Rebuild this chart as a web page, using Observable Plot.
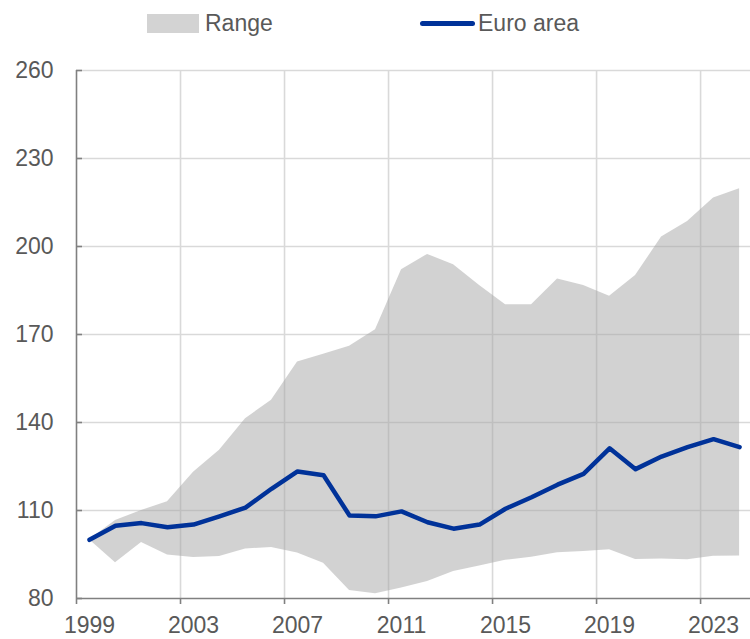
<!DOCTYPE html>
<html>
<head>
<meta charset="utf-8">
<script src="https://cdn.jsdelivr.net/npm/d3@7"></script>
<script src="https://cdn.jsdelivr.net/npm/@observablehq/plot@0.6"></script>
<style>
  body { margin: 0; background: #fff; font-family: "Liberation Sans", Arial, sans-serif; }
  #wrap { position: relative; width: 750px; height: 639px; overflow: hidden; }
  #legend { position: relative; width: 750px; height: 40px; }
  #chart svg { display: block; }
  .sw-range { position: absolute; left: 147px; top: 14px; width: 52px; height: 19px; background: #d3d3d3; }
  .sw-line { position: absolute; left: 420px; top: 21px; width: 55px; height: 5px; border-radius: 3px; background: #003299; }
  .lab { position: absolute; top: 9px; font-size: 23px; line-height: 28px; color: #595959; }
</style>
</head>
<body>
<div id="wrap">
  <div id="legend">
    <div class="sw-range"></div><div class="lab" style="left:205px">Range</div>
    <div class="sw-line"></div><div class="lab" style="left:478px">Euro area</div>
  </div>
  <div id="chart"></div>
</div>
<script>
const years = [1999, 2000, 2001, 2002, 2003, 2004, 2005, 2006, 2007, 2008, 2009, 2010, 2011, 2012, 2013, 2014, 2015, 2016, 2017, 2018, 2019, 2020, 2021, 2022, 2023, 2024];
const euroArea = [100, 104.8, 105.7, 104.3, 105.2, 108, 111, 117.4, 123.3, 122, 108.3, 108, 109.7, 106, 103.8, 105.2, 110.6, 114.5, 118.8, 122.5, 131.2, 124.1, 128.4, 131.6, 134.3, 131.6];
const rangeLow = [100, 92.2, 99.1, 94.8, 94, 94.3, 96.9, 97.4, 95.5, 92, 82.7, 81.6, 83.6, 85.8, 89.2, 91.1, 93, 94.1, 95.6, 96, 96.6, 93.3, 93.5, 93.2, 94.4, 94.5];
const rangeHigh = [100, 106.6, 110, 113, 123, 130.5, 141.3, 147.6, 160.6, 163.3, 166, 171.6, 192.1, 197.3, 193.8, 186.7, 180.1, 180.1, 188.9, 186.7, 183, 190.1, 203.2, 208.5, 216.5, 219.7];
const xLabelYears = [1999, 2003, 2007, 2011, 2015, 2019, 2023];
const yTicks = [80, 110, 140, 170, 200, 230, 260];

const data = years.map((y, i) => ({year: y, euro: euroArea[i], lo: rangeLow[i], hi: rangeHigh[i]}));
const mid = d => d.year + 0.5;

const chart = Plot.plot({
  width: 750,
  height: 599,
  marginLeft: 76,
  marginRight: 0,
  marginTop: 30,
  marginBottom: 41,
  style: {fontFamily: "'Liberation Sans', Arial, sans-serif", fontSize: "23px", color: "#595959", background: "#fff"},
  x: {domain: [1999, 2024.92], axis: null},
  y: {domain: [80, 260], axis: null},
  marks: [
    Plot.gridX({ticks: xLabelYears.slice(1), stroke: "#d9d9d9", strokeOpacity: 1, strokeWidth: 1.6}),
    Plot.gridY({ticks: yTicks.slice(1), stroke: "#d9d9d9", strokeOpacity: 1, strokeWidth: 1.6}),
    Plot.areaY(data, {x: mid, y1: "lo", y2: "hi", fill: "#a6a6a6", fillOpacity: 0.5}),
    Plot.lineY(data, {x: mid, y: "euro", stroke: "#003299", strokeWidth: 4.5, strokeLinejoin: "round", strokeLinecap: "round"}),
    Plot.ruleY([80], {stroke: "#808080", strokeWidth: 1.6}),
    Plot.ruleX([1999], {stroke: "#808080", strokeWidth: 1.6}),
    Plot.axisY({ticks: yTicks, tickSize: 0, tickPadding: 23, tickFormat: d => String(d), fill: "#595959", fontSize: 23}),
    Plot.axisY({ticks: yTicks, tickSize: 6, tickFormat: () => "", dx: 6, stroke: "#808080", strokeWidth: 1.6}),
    Plot.axisX({ticks: xLabelYears, tickSize: 6, tickFormat: () => "", stroke: "#808080", strokeWidth: 1.6}),
    Plot.axisX({ticks: xLabelYears.map(y => y + 0.5), tickSize: 0, tickPadding: 18, tickFormat: d => String(d - 0.5), fill: "#595959", fontSize: 23})
  ]
});
document.getElementById("chart").appendChild(chart);
</script>
</body>
</html>
